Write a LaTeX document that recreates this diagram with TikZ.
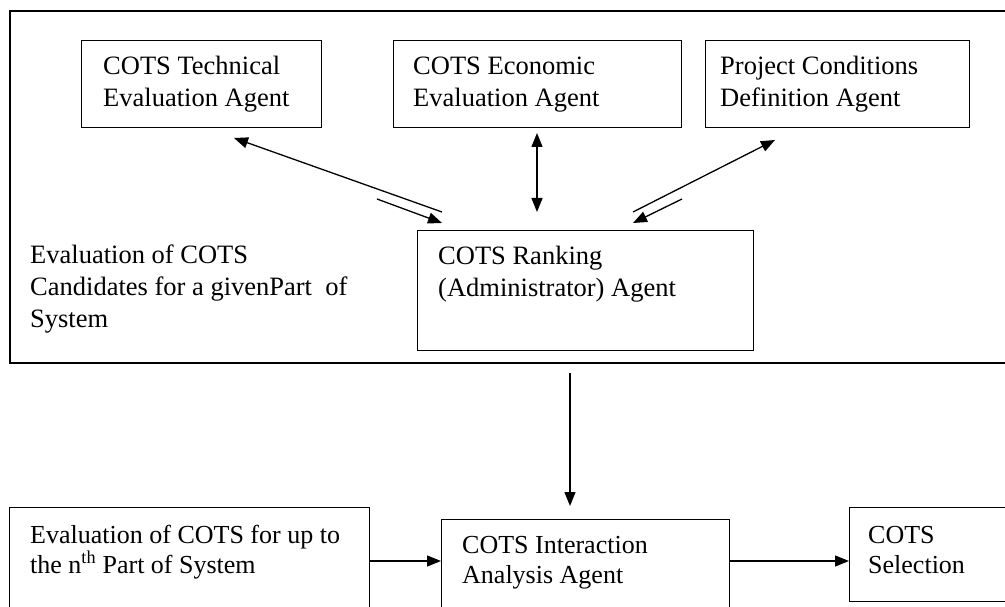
\documentclass[tikz,border=0pt]{standalone}
\usepackage{fontspec}
\setmainfont{Liberation Serif}
\usetikzlibrary{arrows.meta}
\begin{document}
\begin{tikzpicture}[x=1pt,y=-1pt,
  boxst/.style={draw=black,line width=1.3pt,inner sep=0pt,anchor=north west},
  txt/.style={anchor=base west,align=left,inner sep=0pt,font=\fontsize{26.5}{32}\selectfont},
  txtb/.style={txt,font=\fontsize{26}{30}\selectfont},
  arr/.style={line width=1.3pt,-{Triangle[length=14pt,width=11pt]}},
  darr/.style={line width=1.3pt,{Triangle[length=14pt,width=11pt]}-{Triangle[length=14pt,width=11pt]}}]
\useasboundingbox (0,0) rectangle (1005,607);
\clip (0,0) rectangle (1005,607);
\fill[white] (0,0) rectangle (1005,607);
% outer frame
\node[boxst,line width=1.6pt,minimum width=1010pt,minimum height=352pt] (frame) at (9,10) {};
% top boxes
\node[boxst,minimum width=240pt,minimum height=87pt] (tech) at (81,40) {};
\node[boxst,minimum width=288pt,minimum height=87pt] (econ) at (393,40) {};
\node[boxst,minimum width=264pt,minimum height=87pt] (proj) at (705,40) {};
\node[boxst,minimum width=336pt,minimum height=120pt] (rank) at (417,230) {};
% bottom boxes
\node[boxst,minimum width=360pt,minimum height=120pt] (evaln) at (9,507) {};
\node[boxst,minimum width=288pt,minimum height=110pt] (cia) at (441,519) {};
\node[boxst,minimum width=160pt,minimum height=94pt] (sel) at (849,507) {};
% texts (anchor = baseline of last line)
\node[txt] (ttech) at (103,107) {COTS Technical\\Evaluation Agent};
\node[txt] (tecon) at (413,107) {COTS Economic\\Evaluation Agent};
\node[txt] (tproj) at (720,107) {Project Conditions\\Definition Agent};
\node[txt] (trank) at (438,296) {COTS Ranking\\(Administrator) Agent};
\node[txt] (tlab) at (30,327) {Evaluation of COTS\\Candidates for a givenPart\ \ of\\System};
\node[txtb] (tevaln) at (30,573) {Evaluation of COTS for up to\\the n\textsuperscript{th} Part of System};
\node[txtb] (tcia) at (462,583) {COTS Interaction\\Analysis Agent};
\node[txtb] (tsel) at (868,573) {COTS\\Selection};
% connector end points
\coordinate (t1a) at (442,212); \coordinate (t1b) at (234,138);
\coordinate (t2a) at (377,199); \coordinate (t2b) at (442,223);
\coordinate (e1a) at (537,133); \coordinate (e1b) at (537,212);
\coordinate (p1a) at (633,212); \coordinate (p1b) at (775,140);
\coordinate (p2a) at (682,199); \coordinate (p2b) at (633,223);
\coordinate (dA) at (570,373); \coordinate (dB) at (570,506);
% connectors
\draw[arr] (t1a) -- (t1b);
\draw[arr] (t2a) -- (t2b);
\draw[darr] (e1a) -- (e1b);
\draw[arr] (p1a) -- (p1b);
\draw[arr] (p2a) -- (p2b);
\draw[arr] (dA) -- (dB);
\draw[arr] (evaln.east |- 0,561) -- (cia.west |- 0,561);
\draw[arr] (cia.east |- 0,561) -- (sel.west |- 0,561);
\end{tikzpicture}
\end{document}
